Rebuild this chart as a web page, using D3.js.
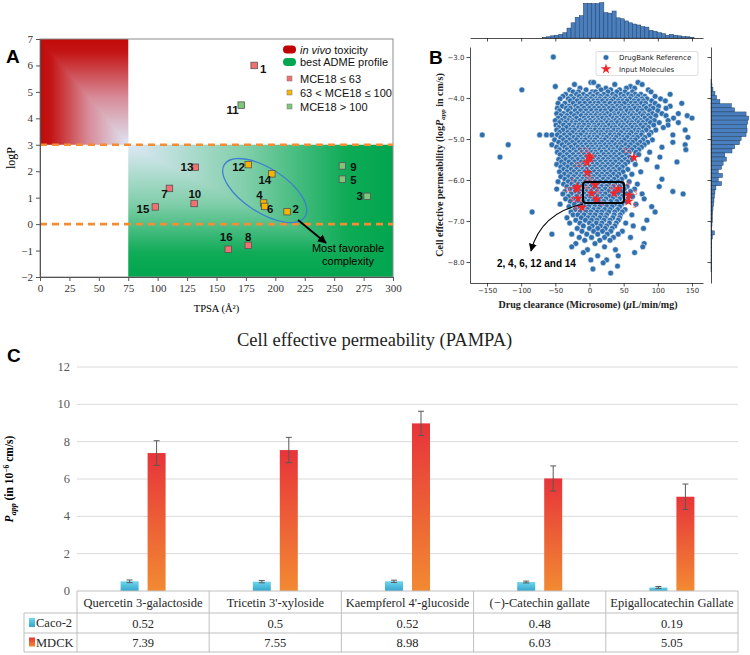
<!DOCTYPE html>
<html>
<head>
<meta charset="utf-8">
<script src="https://cdn.jsdelivr.net/npm/d3@7"></script>
<style>
  html, body { margin: 0; padding: 0; background: #fff; overflow: hidden; }
  svg { display: block; }
</style>
</head>
<body>
<svg id="fig" width="750" height="655"></svg>
<script>
// ---------------- data ----------------
// Panel A: TPSA / logP of the 16 molecules
const molIds   = ["1","2","3","4","5","6","7","8","9","10","11","12","13","14","15","16"];
const molTpsa  = [182, 210, 278, 190, 257, 191, 110, 177, 257, 131, 171, 177, 132, 197, 98, 160];
const molLogP  = [6.0, 0.47, 1.05, 0.8, 1.7, 0.67, 1.35, -0.8, 2.2, 0.78, 4.5, 2.25, 2.15, 1.9, 0.65, -0.95];
const molClass = ["low","mid","high","mid","high","mid","low","low","high","low","high","mid","low","mid","low","low"];
const classNames = ["MCE18 \u2264 63", "63 < MCE18 \u2264 100", "MCE18 > 100"];

// Panel B: DrugBank reference (rows of equal logPapp -> clearance values)
const drugBankRows = [
  [-3.00, [-53]],
  [-3.62, [2, 6, 71]],
  [-3.67, [-22, 37, 77]],
  [-3.72, [-50, 13, 60]],
  [-3.76, [-14, 24, 54, 66]],
  [-3.80, [-99, -29, -5, 17, 31, 44, 86]],
  [-3.85, [-24, -16, 4, 9, 27, 40, 52, 63, 90]],
  [-3.91, [-35, -19, -9, 1, 12, 21, 34, 46, 57, 67, 75, 118]],
  [-3.96, [-39, -27, -15, -4, 5, 16, 26, 38, 50, 61, 71, 81, 96]],
  [-4.02, [-43, -31, -23, -12, -6, 2, 10, 15, 23, 31, 35, 45, 53, 59, 68, 77, 84, 104]],
  [-4.07, [-28, -18, -9, -2, 6, 12, 19, 27, 32, 42, 49, 55, 65, 72, 79, 91, 111]],
  [-4.13, [-46, -36, -24, -14, -7, 1, 8, 13, 22, 30, 38, 44, 51, 61, 67, 76, 82, 96, 135]],
  [-4.20, [-40, -30, -20, -11, -3, 4, 11, 18, 24, 33, 41, 47, 57, 64, 70, 80, 89, 101, 118]],
  [-4.25, [-47, -34, -28, -17, -8, 0, 7, 14, 21, 29, 35, 44, 52, 58, 67, 73, 83, 93, 112]],
  [-4.31, [-44, -31, -21, -13, -5, 3, 10, 17, 23, 32, 40, 46, 55, 61, 71, 77, 88, 100]],
  [-4.38, [-48, -38, -27, -18, -9, -2, 6, 11, 20, 26, 36, 43, 49, 59, 64, 74, 80, 92, 106, 130]],
  [-4.43, [-42, -33, -22, -12, -5, 2, 9, 16, 22, 31, 37, 47, 52, 62, 68, 78, 86, 97, 112, 143]],
  [-4.49, [-46, -36, -29, -19, -8, -1, 5, 12, 19, 25, 35, 40, 50, 56, 65, 71, 81, 89, 123, 150]],
  [-4.55, [-50, -41, -31, -25, -14, -6, 1, 8, 13, 23, 28, 38, 44, 53, 59, 69, 75, 85, 95, 115]],
  [-4.60, [-44, -35, -26, -20, -10, -3, 4, 11, 17, 26, 32, 41, 47, 57, 62, 72, 78, 89, 102, 130]],
  [-4.66, [-49, -38, -30, -21, -15, -8, -1, 7, 14, 20, 29, 35, 45, 50, 60, 66, 75, 82, 94, 115]],
  [-4.72, [-45, -34, -24, -16, -11, -2, 5, 9, 18, 23, 33, 38, 48, 54, 63, 69, 79, 86, 108]],
  [-4.78, [-48, -39, -28, -22, -12, -5, 2, 8, 15, 21, 27, 36, 42, 51, 57, 67, 72, 83, 97, 140]],
  [-4.84, [-44, -32, -25, -15, -9, -1, 3, 12, 17, 26, 31, 41, 46, 55, 61, 71, 77, 90]],
  [-4.90, [-157, -73, -63, -55, -47, -37, -29, -19, -13, -4, 2, 7, 16, 21, 30, 37, 43, 52, 58, 68, 76, 87, 122]],
  [-4.96, [-42, -33, -23, -17, -7, 0, 6, 11, 20, 25, 34, 39, 49, 55, 64, 70, 81, 144]],
  [-5.02, [-51, -38, -29, -19, -11, -6, 3, 8, 17, 22, 31, 36, 45, 51, 61, 67, 78, 92]],
  [-5.08, [-45, -34, -25, -15, -9, -1, 6, 13, 18, 27, 33, 42, 47, 57, 63, 74, 85, 122]],
  [-5.14, [-119, -55, -40, -30, -21, -12, -5, 2, 9, 15, 23, 29, 38, 44, 53, 60, 70, 80, 140]],
  [-5.20, [-48, -36, -27, -17, -10, -2, 4, 12, 17, 26, 32, 41, 47, 57, 66, 76, 106]],
  [-5.26, [-44, -33, -23, -14, -7, 1, 7, 15, 21, 30, 35, 45, 53, 62, 72, 141]],
  [-5.32, [-47, -38, -29, -20, -11, -4, 4, 9, 18, 24, 33, 39, 49, 58, 68, 88]],
  [-5.38, [-43, -33, -24, -16, -8, -1, 7, 12, 21, 28, 36, 44, 54, 72]],
  [-5.44, [-131, -38, -29, -20, -13, -5, 3, 9, 15, 24, 31, 39, 48, 58, 103]],
  [-5.50, [-45, -35, -25, -17, -10, -2, 5, 13, 20, 27, 35, 43, 52, 62, 84]],
  [-5.56, [-41, -30, -22, -12, -6, 2, 8, 16, 24, 31, 38, 47, 56, 128]],
  [-5.62, [-48, -37, -26, -18, -9, -3, 5, 11, 19, 27, 34, 43, 52, 67]],
  [-5.68, [-42, -32, -22, -15, -7, 1, 7, 16, 23, 31, 40, 48, 99]],
  [-5.74, [-38, -27, -19, -10, -4, 4, 11, 19, 28, 35, 44, 56]],
  [-5.80, [-44, -33, -23, -15, -7, -1, 7, 14, 22, 31, 38, 49, 75]],
  [-5.86, [-37, -28, -19, -12, -4, 2, 11, 18, 26, 35, 43, 62]],
  [-5.92, [-42, -31, -23, -14, -8, 0, 6, 15, 22, 30, 40, 52]],
  [-5.98, [-36, -26, -18, -10, -4, 4, 11, 20, 27, 36, 47, 106]],
  [-6.04, [-46, -31, -21, -14, -6, 0, 8, 15, 24, 32, 42, 58]],
  [-6.10, [-38, -26, -16, -10, -2, 4, 13, 20, 29, 37, 48, 70]],
  [-6.16, [-33, -22, -12, -6, 2, 9, 18, 25, 35, 44, 55, 102]],
  [-6.22, [-48, -28, -17, -8, -2, 7, 14, 23, 31, 41, 51, 66]],
  [-6.28, [-36, -21, -13, -4, 2, 11, 18, 28, 36, 47, 60, 122]],
  [-6.34, [-39, -27, -15, -8, 0, 7, 16, 23, 33, 42, 54, 77, 137]],
  [-6.40, [-31, -19, -11, -3, 3, 12, 19, 29, 37, 48, 63]],
  [-6.46, [-35, -24, -13, -7, 1, 8, 17, 24, 34, 44, 56, 80]],
  [-6.52, [-28, -17, -9, -1, 5, 14, 21, 31, 40, 52]],
  [-6.59, [-43, -22, -12, -5, 3, 10, 19, 27, 37, 47, 68]],
  [-6.65, [-30, -16, -7, -1, 8, 15, 25, 33, 44, 91]],
  [-6.72, [-21, -10, -3, 6, 13, 22, 30, 41, 52]],
  [-6.78, [-84, -27, -14, -5, 2, 11, 18, 28, 37, 48, 96]],
  [-6.85, [-24, -17, -8, 1, 8, 17, 25, 36, 45, 62]],
  [-6.92, [-33, -12, -2, 5, 15, 23, 34, 44]],
  [-6.98, [-20, -6, 3, 11, 21, 30, 42, 84]],
  [-7.05, [-29, -14, 0, 10, 18, 29, 39, 53]],
  [-7.12, [-9, 4, 16, 25, 37, 64]],
  [-7.18, [-18, 0, 12, 23, 33, 79]],
  [-7.25, [-11, 6, 19, 31, 48]],
  [-7.32, [-55, -26, -4, 12, 26, 42]],
  [-7.40, [-15, 3, 22, 35, 60]],
  [-7.47, [-7, 15, 30]],
  [-7.55, [-20, 8, 80]],
  [-7.63, [-26, 22, 78]],
  [-7.70, [-3, 38]],
  [-7.77, [-9, 66]],
  [-7.85, [12, 42]],
  [-7.95, [2, 25]],
  [-8.02, [20]],
  [-8.10, [41]],
  [-8.17, [5]],
  [-8.27, [31]]
];
// Panel B: input molecules (same order as molIds)
const inputClearance = [1, 10, 58, 3, 57, 8, -18, -11, -17, -19, 65, 36, 0, 42, -4, -3];
const inputPerm      = [-5.47, -6.47, -6.37, -6.32, -6.52, -6.12, -6.17, -6.67, -6.45, -6.22, -5.45, -6.32, -5.42, -6.22, -5.57, -5.82];
// marginal histograms
const clearBinStart = -69, clearBinWidth = 6;
const clearCounts = [1, 4, 7, 9, 12, 17, 32, 49, 67, 72, 112, 112, 111, 111, 114, 82, 80, 87, 65, 62, 55, 49, 45, 42, 37, 35, 25, 22, 17, 14, 9, 12, 9, 7, 5, 4, 2];
const permBinStart = -3.54, permBinWidth = 0.1;
const permCounts = [2, 3, 6, 12, 17, 27, 62, 72, 107, 115, 112, 109, 110, 107, 92, 87, 72, 64, 42, 47, 37, 32, 22, 35, 22, 32, 15, 12, 10, 9, 8, 6, 5, 4, 4, 3, 2, 10, 4, 2, 2, 1, 1, 1, 1, 1, 1];
const xTicksB = [-150, -100, -50, 0, 50, 100, 150];
const yTicksB = [-3, -4, -5, -6, -7, -8];

// Panel C: PAMPA permeability
const compounds = ["Quercetin 3-galactoside", "Tricetin 3'-xyloside", "Kaempferol 4'-glucoside", "(\u2212)-Catechin gallate", "Epigallocatechin Gallate"];
const seriesNames = ["Caco-2", "MDCK"];
const cacoValues = [0.52, 0.5, 0.52, 0.48, 0.19];
const cacoErrors = [0.07, 0.06, 0.06, 0.05, 0.05];
const mdckValues = [7.39, 7.55, 8.98, 6.03, 5.05];
const mdckErrors = [0.66, 0.68, 0.65, 0.67, 0.68];
const yTicksC = [0, 2, 4, 6, 8, 10, 12];

// ---------------- styles ----------------
const SERIF = "'Liberation Serif', 'Times New Roman', serif";
const SANS = "'Liberation Sans', Arial, sans-serif";
const MPL = "'DejaVu Sans', sans-serif";
const classColor = {low: "#f2706f", mid: "#f7b500", high: "#7fc67a"};

const svg = d3.select("#fig");
const defs = svg.append("defs");

function gradient(id, horizontal, stops) {
  const g = defs.append("linearGradient").attr("id", id)
    .attr("x1", 0).attr("y1", 0).attr("x2", horizontal ? 1 : 0).attr("y2", horizontal ? 0 : 1);
  stops.forEach(([o, c]) => g.append("stop").attr("offset", o).attr("stop-color", c));
}
const redStops = [[0, "#c10a0a"], [0.12, "#c41414"], [0.55, "#d78b98"], [1, "#dfe6f3"]];
const greenStops = [[0, "#dee8f5"], [0.45, "#7fcea9"], [0.82, "#0fab57"], [1, "#02a54f"]];
gradient("redV", false, redStops);
gradient("redH", true, redStops);
gradient("greenH", true, greenStops);
gradient("greenV", false, greenStops);
gradient("cacoFill", false, [[0, "#6fd6ec"], [1, "#35a6cf"]]);
gradient("mdckFill", false, [[0, "#e7343a"], [1, "#f28a32"]]);

function arrowMarker(id, size) {
  defs.append("marker").attr("id", id).attr("viewBox", "0 0 10 10")
    .attr("refX", 9).attr("refY", 5).attr("markerWidth", size).attr("markerHeight", size)
    .attr("markerUnits", "userSpaceOnUse").attr("orient", "auto")
    .append("path").attr("d", "M0,0 L10,5 L0,10 z").attr("fill", "#000");
}
arrowMarker("arrA", 9);
arrowMarker("arrB", 8);

function panelLetter(t, x, y) {
  svg.append("text").attr("x", x).attr("y", y).text(t)
    .attr("font-family", SANS).attr("font-weight", "bold").attr("font-size", 19);
}

// ================= Panel A =================
const xA = d3.scaleLinear().domain([0, 300]).range([40, 393]);
const yA = d3.scaleLinear().domain([-2, 7]).range([277, 39]);
const gA = svg.append("g");

// red zone (TPSA < 75, logP > 3) and green zone (TPSA > 75, logP < 3): box gradients
// (full rect with one direction, the other triangle laid on top)
const rx0 = xA(0), rx1 = xA(75), ry0 = yA(7), ry1 = yA(3);
gA.append("rect").attr("x", rx0).attr("y", ry0).attr("width", rx1 - rx0).attr("height", ry1 - ry0).attr("fill", "url(#redH)");
gA.append("polygon").attr("points", [[rx0, ry0], [rx1, ry0], [rx1, ry1]].join(" ")).attr("fill", "url(#redV)");
const gx0 = xA(75), gx1 = xA(300), gy0 = yA(3), gy1 = yA(-2);
gA.append("rect").attr("x", gx0).attr("y", gy0).attr("width", gx1 - gx0).attr("height", gy1 - gy0).attr("fill", "url(#greenV)");
gA.append("polygon").attr("points", [[gx0, gy0], [gx1, gy0], [gx1, gy1]].join(" ")).attr("fill", "url(#greenH)");

// frame
gA.append("rect").attr("x", xA(0)).attr("y", yA(7)).attr("width", xA(300) - xA(0)).attr("height", yA(-2) - yA(7))
  .attr("fill", "none").attr("stroke", "#8c8c8c").attr("stroke-width", 1);

// dashed thresholds
gA.selectAll("line.thr").data([3, 0]).join("line").attr("class", "thr")
  .attr("x1", xA(0)).attr("x2", xA(300)).attr("y1", d => yA(d)).attr("y2", d => yA(d))
  .attr("stroke", "#f48c34").attr("stroke-width", 2.6).attr("stroke-dasharray", "7,5");

// axes
gA.append("g").attr("transform", `translate(${xA(0)},0)`)
  .call(d3.axisLeft(yA).tickValues(d3.range(-2, 8)).tickSize(4).tickSizeOuter(0).tickPadding(3))
  .attr("font-family", SERIF).attr("font-size", 11)
  .call(g => g.select(".domain").attr("stroke", "#555"))
  .call(g => g.selectAll(".tick line").attr("stroke", "#555"))
  .call(g => g.selectAll(".tick text").attr("fill", "#333"));
gA.append("g").attr("transform", `translate(0,${yA(-2)})`)
  .call(d3.axisBottom(xA).tickValues(d3.range(0, 301, 25)).tickSize(4).tickSizeOuter(0).tickPadding(3))
  .attr("font-family", SERIF).attr("font-size", 11)
  .call(g => g.select(".domain").attr("stroke", "#555"))
  .call(g => g.selectAll(".tick line").attr("stroke", "#555"))
  .call(g => g.selectAll(".tick text").attr("fill", "#333"));
gA.append("text").attr("transform", `translate(15,${(yA(7) + yA(-2)) / 2}) rotate(-90)`)
  .attr("text-anchor", "middle").attr("font-family", SERIF).attr("font-size", 12).text("logP");
gA.append("text").attr("x", (xA(0) + xA(300)) / 2).attr("y", 312)
  .attr("text-anchor", "middle").attr("font-family", SERIF).attr("font-size", 10.5).text("TPSA (\u00C5\u00B2)");

// ellipse around favourable molecules
gA.append("ellipse").attr("transform", `translate(${xA(191)},${yA(1.27)}) rotate(33)`)
  .attr("rx", 48).attr("ry", 22).attr("fill", "none").attr("stroke", "#3e7fcf").attr("stroke-width", 1.3);
gA.append("line").attr("x1", 298).attr("y1", 220).attr("x2", 326).attr("y2", 243)
  .attr("stroke", "#000").attr("stroke-width", 1.8).attr("marker-end", "url(#arrA)");
gA.selectAll("text.fav").data(["Most favorable", "complexity"]).join("text").attr("class", "fav")
  .attr("x", 348).attr("y", (d, i) => 252 + i * 13).attr("text-anchor", "middle")
  .attr("font-family", SANS).attr("font-size", 11).text(d => d);

// molecules
const molA = molIds.map((id, i) => ({id, x: molTpsa[i], y: molLogP[i], c: molClass[i]}));
const molLabelA = {
  "1": [9, 7.5], "2": [8.5, 1.5], "3": [-7.5, 4], "4": [-4, -3.5], "5": [11, 5.3], "6": [5.5, 6.3],
  "7": [-5, 9.5], "8": [0, -4], "9": [11, 5], "10": [0.7, -5.3], "11": [-8.7, 8.5], "12": [-9.7, 6.3],
  "13": [-8.3, 4], "14": [-7, 10.3], "15": [-12.3, 6.3], "16": [-2, -8]
};
gA.append("g").selectAll("rect").data(molA).join("rect")
  .attr("x", d => xA(d.x) - 3.25).attr("y", d => yA(d.y) - 3.25).attr("width", 6.5).attr("height", 6.5)
  .attr("fill", d => classColor[d.c]).attr("stroke", "#555").attr("stroke-width", 0.8);
gA.append("g").selectAll("text").data(molA).join("text")
  .attr("x", d => xA(d.x) + molLabelA[d.id][0]).attr("y", d => yA(d.y) + molLabelA[d.id][1])
  .attr("text-anchor", "middle").attr("font-family", SANS).attr("font-weight", "bold").attr("font-size", 11.5)
  .attr("fill", "#111").text(d => d.id);

// legend
const legA = gA.append("g").attr("font-family", SANS).attr("font-size", 11).attr("fill", "#111");
legA.append("rect").attr("x", 283).attr("y", 45.5).attr("width", 13).attr("height", 8).attr("rx", 4).attr("fill", "#c00000");
legA.append("rect").attr("x", 283).attr("y", 58).attr("width", 13).attr("height", 8).attr("rx", 4).attr("fill", "#00a650");
const t1 = legA.append("text").attr("x", 300).attr("y", 53.5);
t1.append("tspan").attr("font-style", "italic").text("in vivo");
t1.append("tspan").text(" toxicity");
legA.append("text").attr("x", 300).attr("y", 66).text("best ADME profile");
["low", "mid", "high"].forEach((c, i) => {
  legA.append("rect").attr("x", 287).attr("y", 76 + i * 14).attr("width", 5).attr("height", 5)
    .attr("fill", classColor[c]).attr("stroke", "#777").attr("stroke-width", 0.5);
  legA.append("text").attr("x", 300).attr("y", 82.5 + i * 14).text(classNames[i]);
});
panelLetter("A", 6, 63);

// ================= Panel B =================
const xB = d3.scaleLinear().domain([-174.9, 166.1]).range([470, 703]);
const yB = d3.scaleLinear().domain([-2.756, -8.512]).range([47, 283]);
const gB = svg.append("g");

const dbPoints = drugBankRows.flatMap(([y, xs]) => xs.map(x => ({x, y})));
gB.append("g").selectAll("circle").data(dbPoints).join("circle")
  .attr("cx", d => xB(d.x)).attr("cy", d => yB(d.y)).attr("r", 2.9)
  .attr("fill", "#2f6fae").attr("stroke", "#fff").attr("stroke-width", 0.5);

// input molecules
const inputs = molIds.map((id, i) => ({id, x: inputClearance[i], y: inputPerm[i]}));
const starLabel = {
  "1": ["end", -3, 6], "2": ["start", 4, 7], "3": ["start", 4, 0], "4": ["middle", -5, -3],
  "5": ["start", 4, 7], "6": ["middle", 3, 9], "7": ["middle", -5, -4], "8": ["end", -4, 3],
  "9": ["end", -4, 4], "10": ["end", -4, 3], "11": ["middle", -7, -4], "12": ["middle", -2, -4],
  "13": ["end", -1, -3], "14": ["start", 3, -3], "15": ["end", -4, 5], "16": ["middle", 1, 8]
};
gB.append("g").selectAll("path").data(inputs).join("path")
  .attr("d", d3.symbol(d3.symbolStar, 34))
  .attr("transform", d => `translate(${xB(d.x)},${yB(d.y)})`)
  .attr("fill", "#f5262a");
gB.append("g").selectAll("text").data(inputs).join("text")
  .attr("x", d => xB(d.x) + starLabel[d.id][1]).attr("y", d => yB(d.y) + starLabel[d.id][2])
  .attr("text-anchor", d => starLabel[d.id][0])
  .attr("font-family", MPL).attr("font-size", 7).attr("fill", "#ff4d4d").attr("fill-opacity", 0.85)
  .text(d => d.id);

// highlight box + curved arrow + caption
gB.append("rect").attr("x", xB(-9.5)).attr("y", yB(-6.05)).attr("width", xB(50.5) - xB(-9.5))
  .attr("height", yB(-6.56) - yB(-6.05)).attr("rx", 3).attr("fill", "none")
  .attr("stroke", "#000").attr("stroke-width", 2);
gB.append("path").attr("d", "M583,204 Q541,213 531,251").attr("fill", "none")
  .attr("stroke", "#000").attr("stroke-width", 1.1).attr("marker-end", "url(#arrB)");
gB.append("text").attr("x", 497).attr("y", 267).attr("font-family", SANS).attr("font-weight", "bold")
  .attr("font-size", 10).text("2, 4, 6, 12 and 14");

// axes (left & bottom spines)
function mplAxis(g) {
  g.attr("font-family", MPL).attr("font-size", 7);
  g.select(".domain").attr("stroke", "#222").attr("stroke-width", 0.8);
  g.selectAll(".tick line").attr("stroke", "#222").attr("stroke-width", 0.8);
  g.selectAll(".tick text").attr("fill", "#333");
}
gB.append("g").attr("transform", "translate(470,0)")
  .call(d3.axisLeft(yB).tickValues(yTicksB).tickSize(3.5).tickSizeOuter(0).tickPadding(2)).call(mplAxis);
gB.append("g").attr("transform", "translate(0,283)")
  .call(d3.axisBottom(xB).tickValues(xTicksB).tickSize(3.5).tickSizeOuter(0).tickPadding(2)).call(mplAxis);

const yl = gB.append("text").attr("transform", "translate(443,165) rotate(-90)").attr("text-anchor", "middle")
  .attr("font-family", SERIF).attr("font-weight", "bold").attr("font-size", 10).attr("fill", "#222");
yl.append("tspan").text("Cell effective permeability (log");
yl.append("tspan").attr("font-style", "italic").text("P");
yl.append("tspan").attr("font-style", "italic").attr("font-size", 7).attr("dy", 2).text("app");
yl.append("tspan").attr("dy", -2).text(" in cm/s)");
const xl = gB.append("text").attr("x", 588).attr("y", 308).attr("text-anchor", "middle")
  .attr("font-family", SERIF).attr("font-weight", "bold").attr("font-size", 10).attr("fill", "#222");
xl.append("tspan").text("Drug clearance (Microsome) (");
xl.append("tspan").attr("font-style", "italic").text("\u03BC");
xl.append("tspan").text("L/min/mg)");

// legend
const legB = gB.append("g").attr("font-family", MPL).attr("font-size", 7).attr("fill", "#222");
legB.append("rect").attr("x", 596).attr("y", 51.5).attr("width", 102).attr("height", 24).attr("rx", 2)
  .attr("fill", "#fff").attr("fill-opacity", 0.85).attr("stroke", "#d0d0d0").attr("stroke-width", 0.7);
legB.append("circle").attr("cx", 606).attr("cy", 57.5).attr("r", 2.8).attr("fill", "#2f6fae").attr("stroke", "#fff").attr("stroke-width", 0.5);
legB.append("path").attr("d", d3.symbol(d3.symbolStar, 34)).attr("transform", "translate(606,69)").attr("fill", "#f5262a");
legB.append("text").attr("x", 619).attr("y", 60).text("DrugBank Reference");
legB.append("text").attr("x", 619).attr("y", 71.5).text("Input Molecules");

// marginal histograms
const histX = d3.scaleLinear().domain([0, 116]).range([38, 2]);
const clearBins = clearCounts.map((c, i) => ({x0: clearBinStart + i * clearBinWidth, x1: clearBinStart + (i + 1) * clearBinWidth, c}));
gB.append("g").selectAll("rect").data(clearBins).join("rect")
  .attr("x", d => xB(d.x0)).attr("width", d => xB(d.x1) - xB(d.x0))
  .attr("y", d => histX(d.c)).attr("height", d => histX(0) - histX(d.c))
  .attr("fill", "#4a7fbf").attr("stroke", "#22405f").attr("stroke-width", 0.5);
gB.append("g").attr("transform", "translate(0,38)")
  .call(d3.axisBottom(xB).tickValues(xTicksB).tickSize(3.5).tickSizeOuter(0).tickFormat(""))
  .call(mplAxis);

const histY = d3.scaleLinear().domain([0, 116]).range([711, 749]);
const permBins = permCounts.map((c, i) => ({hi: permBinStart - i * permBinWidth, lo: permBinStart - (i + 1) * permBinWidth, c}));
gB.append("g").selectAll("rect").data(permBins).join("rect")
  .attr("x", histY(0)).attr("width", d => histY(d.c) - histY(0))
  .attr("y", d => yB(d.hi)).attr("height", d => yB(d.lo) - yB(d.hi))
  .attr("fill", "#4a7fbf").attr("stroke", "#22405f").attr("stroke-width", 0.5);
gB.append("g").attr("transform", "translate(711,0)")
  .call(d3.axisLeft(yB).tickValues(yTicksB).tickSize(3.5).tickSizeOuter(0).tickFormat(""))
  .call(mplAxis);
panelLetter("B", 429, 64);

// ================= Panel C =================
const yC = d3.scaleLinear().domain([0, 12]).range([591, 367]);
const xC = d3.scaleBand().domain(compounds).range([77, 738]);
const bw = xC.bandwidth();
const xSub = d3.scaleBand().domain(seriesNames).range([bw / 2 - 22.5, bw / 2 + 22.5]).paddingInner(1 / 3);
const gC = svg.append("g");

gC.append("text").attr("x", 237).attr("y", 346).attr("font-family", SERIF).attr("font-size", 18.5)
  .attr("fill", "#1f1f1f").text("Cell effective permeability (PAMPA)");

gC.append("g").selectAll("line").data(yTicksC.filter(v => v > 0)).join("line")
  .attr("x1", 77).attr("x2", 738).attr("y1", d => yC(d)).attr("y2", d => yC(d))
  .attr("stroke", "#d9d9d9").attr("stroke-width", 1);
gC.append("g").selectAll("text").data(yTicksC).join("text")
  .attr("x", 70).attr("y", d => yC(d) + 4).attr("text-anchor", "end")
  .attr("font-family", SERIF).attr("font-size", 12.5).attr("fill", "#595959").text(d => d);

const barData = [];
compounds.forEach((c, i) => {
  barData.push({c, s: "Caco-2", v: cacoValues[i], e: cacoErrors[i], fill: "url(#cacoFill)"});
  barData.push({c, s: "MDCK", v: mdckValues[i], e: mdckErrors[i], fill: "url(#mdckFill)"});
});
gC.append("g").selectAll("rect").data(barData).join("rect")
  .attr("x", d => xC(d.c) + xSub(d.s)).attr("width", xSub.bandwidth())
  .attr("y", d => yC(d.v)).attr("height", d => yC(0) - yC(d.v)).attr("fill", d => d.fill);
const errG = gC.append("g").attr("stroke", "#595959").attr("stroke-width", 1);
barData.forEach(d => {
  const cx = xC(d.c) + xSub(d.s) + xSub.bandwidth() / 2;
  errG.append("line").attr("x1", cx).attr("x2", cx).attr("y1", yC(d.v + d.e)).attr("y2", yC(d.v - d.e));
  [d.v + d.e, d.v - d.e].forEach(v => errG.append("line").attr("x1", cx - 3).attr("x2", cx + 3).attr("y1", yC(v)).attr("y2", yC(v)));
});

// y label
const ylC = gC.append("text").attr("transform", `translate(13,${(yC(0) + yC(12)) / 2}) rotate(-90)`)
  .attr("text-anchor", "middle").attr("font-family", SERIF).attr("font-weight", "bold").attr("font-size", 11.5);
ylC.append("tspan").attr("font-style", "italic").text("P");
ylC.append("tspan").attr("font-style", "italic").attr("font-size", 8).attr("dy", 2.5).text("app");
ylC.append("tspan").attr("dy", -2.5).text(" (in 10");
ylC.append("tspan").attr("font-size", 7.5).attr("dy", -4).text("\u22126");
ylC.append("tspan").attr("dy", 4).text(" cm/s)");

// data table under the axis
const rowTop = [591, 613, 633], rowBot = 652;
const tbl = gC.append("g").attr("stroke", "#bfbfbf").attr("stroke-width", 1);
tbl.append("line").attr("x1", 77).attr("x2", 738).attr("y1", rowTop[0]).attr("y2", rowTop[0]);
[rowTop[1], rowTop[2], rowBot].forEach(y => tbl.append("line").attr("x1", 24).attr("x2", 738).attr("y1", y).attr("y2", y));
xC.domain().forEach(c => tbl.append("line").attr("x1", xC(c)).attr("x2", xC(c)).attr("y1", rowTop[0]).attr("y2", rowBot));
tbl.append("line").attr("x1", 738).attr("x2", 738).attr("y1", rowTop[0]).attr("y2", rowBot);
tbl.append("line").attr("x1", 24).attr("x2", 24).attr("y1", rowTop[1]).attr("y2", rowBot);

const tt = gC.append("g").attr("font-family", SERIF).attr("font-size", 12.5).attr("fill", "#262626");
compounds.forEach((c, i) => {
  const cx = xC(c) + bw / 2;
  tt.append("text").attr("x", cx).attr("y", 607).attr("text-anchor", "middle").text(c);
  tt.append("text").attr("x", cx).attr("y", 627.5).attr("text-anchor", "middle").text(cacoValues[i]);
  tt.append("text").attr("x", cx).attr("y", 647).attr("text-anchor", "middle").text(mdckValues[i]);
});
[["Caco-2", "url(#cacoFill)", 623], ["MDCK", "url(#mdckFill)", 642.5]].forEach(([name, fill, cy]) => {
  tt.append("rect").attr("x", 29).attr("y", cy - 5).attr("width", 6).attr("height", 9).attr("fill", fill);
  tt.append("text").attr("x", 36).attr("y", cy + 4).text(name);
});
panelLetter("C", 7, 362);
</script>
</body>
</html>
